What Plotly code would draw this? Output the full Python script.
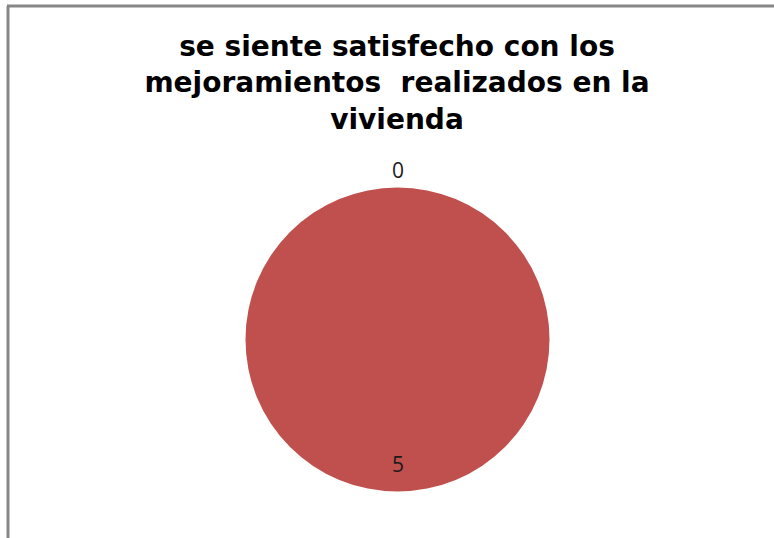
import math
import plotly.graph_objects as go

# Survey answers and their counts
categories = ["SI", "NO"]
counts = [0, 5]
slice_colors = ["#4F81BD", "#C0504D"]
title_text = "se siente satisfecho con los<br>mejoramientos  realizados en la<br>vivienda"

W, H = 774, 538

# Pie placement in pixels (margins are zero, so paper == page)
cx, cy, r = 397.5, 339.5, 152.0

fig = go.Figure(
    go.Pie(
        labels=categories,
        values=counts,
        marker=dict(colors=slice_colors),
        sort=False,
        direction="clockwise",
        rotation=0,
        textinfo="none",
        hoverinfo="label+value",
        showlegend=False,
        domain=dict(
            x=[(cx - r) / W, (cx + r) / W],
            y=[(H - cy - r) / H, (H - cy + r) / H],
        ),
    )
)

# Data labels: placed at each slice's mid-angle; empty slices sit just outside the rim
total = sum(counts)
annotations = []
start = 0.0
for v in counts:
    sweep = 360.0 * v / total
    mid = math.radians(start + sweep / 2)
    d = r + 18 if v == 0 else r - 28
    px = cx + d * math.sin(mid)
    py = cy - d * math.cos(mid)
    annotations.append(
        dict(
            x=px / W, y=1 - py / H, xref="paper", yref="paper",
            text=str(v), showarrow=False,
            font=dict(family="Open Sans", size=21, color="#1a1a1a"),
            xanchor="center", yanchor="middle",
        )
    )
    start += sweep

# Chart-area frame (top and left edges)
shapes = [
    dict(type="line", xref="paper", yref="paper",
         x0=7 / W, x1=1.0, y0=1 - 6 / H, y1=1 - 6 / H,
         line=dict(color="#878787", width=3)),
    dict(type="line", xref="paper", yref="paper",
         x0=8 / W, x1=8 / W, y0=1 - 6 / H, y1=0.0,
         line=dict(color="#878787", width=3)),
]

fig.update_layout(
    width=W, height=H,
    margin=dict(l=0, r=0, t=0, b=0),
    paper_bgcolor="white",
    plot_bgcolor="white",
    title=dict(
        text=title_text,
        x=397 / W, xanchor="center",
        y=1 - 56 / H, yanchor="top",
        font=dict(family="DejaVu Sans", size=28, color="black", weight="bold"),
    ),
    annotations=annotations,
    shapes=shapes,
)

fig.write_html("out.html")
